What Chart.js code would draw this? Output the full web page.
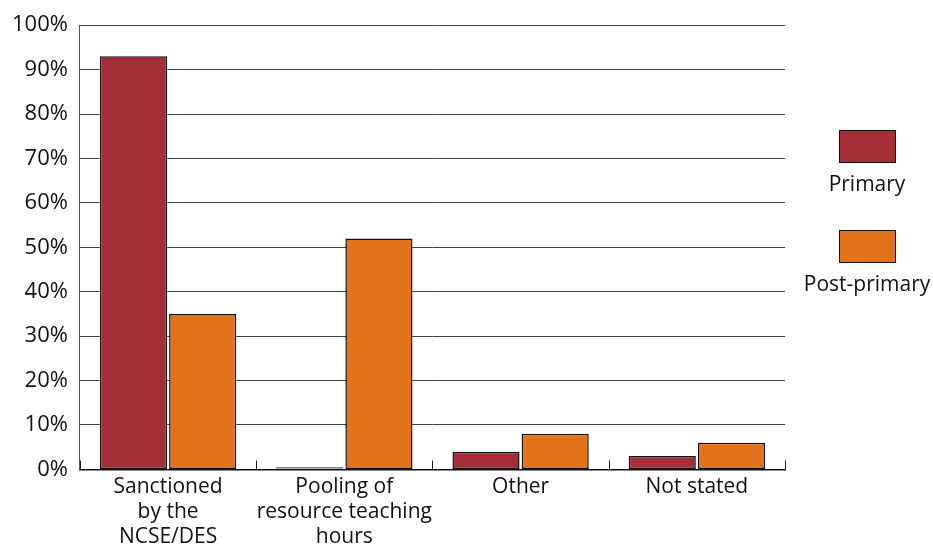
<!DOCTYPE html>
<html>
<head>
<meta charset="utf-8">
<script src="https://cdn.jsdelivr.net/npm/chart.js@4"></script>
<style>
  html, body { margin: 0; padding: 0; background: #fff; }
  #wrap { width: 933px; height: 547px; }
</style>
</head>
<body>
<div id="wrap"><canvas id="chart" width="933" height="547"></canvas></div>
<script>
const categories = [
    ["Sanctioned", "by the", "NCSE/DES"],
    ["Pooling of", "resource teaching", "hours"],
    ["Other"],
    ["Not stated"]
];
const primary = [93, 0, 4, 3];
const postPrimary = [35, 52, 8, 6];
const yTicks = [0, 10, 20, 30, 40, 50, 60, 70, 80, 90, 100];

const FONT = "'Open Sans', 'Noto Sans', sans-serif";

let ctx = document.getElementById('chart').getContext('2d');

// short upward ticks on the x axis at category boundaries
const boundaryTicks = {
    id: 'boundaryTicks',
    afterDatasetsDraw(chart) {
        const { ctx, chartArea, scales } = chart;
        const x = scales.x;
        ctx.save();
        ctx.strokeStyle = '#222';
        ctx.lineWidth = 1;
        for (let i = 0; i <= categories.length; i++) {
            const px = Math.round(x.getPixelForValue(i - 0.5)) + 0.5;
            ctx.beginPath();
            ctx.moveTo(px, chartArea.bottom);
            ctx.lineTo(px, chartArea.bottom - 9);
            ctx.stroke();
        }
        // zero-height bars still show their outline as a line on the axis
        chart.data.datasets.forEach((ds, di) => {
            chart.getDatasetMeta(di).data.forEach((bar, i) => {
                if (ds.data[i] === 0) {
                    ctx.strokeStyle = '#333';
                    ctx.beginPath();
                    ctx.moveTo(bar.x - bar.width / 2, chartArea.bottom - 1.5);
                    ctx.lineTo(bar.x + bar.width / 2, chartArea.bottom - 1.5);
                    ctx.stroke();
                }
            });
        });
        ctx.restore();
    }
};

// legend: box above label, stacked on the right
const sideLegend = {
    id: 'sideLegend',
    afterDraw(chart) {
        const { ctx, chartArea } = chart;
        const cx = chartArea.right + 82;
        const items = chart.data.datasets;
        ctx.save();
        ctx.font = '500 21px ' + FONT;
        ctx.textAlign = 'center';
        ctx.textBaseline = 'middle';
        items.forEach((ds, i) => {
            const top = 130 + i * 100;
            ctx.fillStyle = ds.backgroundColor;
            ctx.fillRect(cx - 28, top, 56, 32);
            ctx.strokeStyle = '#111';
            ctx.lineWidth = 1;
            ctx.strokeRect(cx - 28 + 0.5, top + 0.5, 56, 32);
            ctx.fillStyle = '#111';
            ctx.fillText(ds.label, cx, top + 55);
        });
        ctx.restore();
    }
};

let chart = new Chart(ctx, {
    type: 'bar',
    data: {
        labels: categories,
        datasets: [
            {
                label: 'Primary',
                data: primary,
                backgroundColor: '#A52D38',
                borderColor: '#111',
                borderWidth: 1.5,
                borderSkipped: false,
                categoryPercentage: 0.785,
                barPercentage: 0.97
            },
            {
                label: 'Post-primary',
                data: postPrimary,
                backgroundColor: '#E3731A',
                borderColor: '#111',
                borderWidth: 1.5,
                borderSkipped: false,
                categoryPercentage: 0.785,
                barPercentage: 0.97
            }
        ]
    },
    options: {
        responsive: false,
        animation: false,
        devicePixelRatio: 1,
        layout: { padding: { top: 6, right: 148, left: 0, bottom: 0 } },
        plugins: {
            legend: { display: false },
            tooltip: { enabled: false }
        },
        scales: {
            x: {
                grid: { display: false },
                border: { display: true, color: '#111', width: 1.5 },
                ticks: {
                    color: '#111',
                    font: { family: FONT, size: 21, weight: '500', lineHeight: 1.2 },
                    padding: -3,
                    maxRotation: 0,
                    autoSkip: false
                }
            },
            y: {
                min: 0,
                max: 100,
                afterBuildTicks(axis) {
                    axis.ticks = yTicks.map(v => ({ value: v }));
                },
                grid: {
                    color: '#444',
                    lineWidth: 1,
                    drawTicks: false
                },
                border: { display: true, color: '#555', width: 1 },
                ticks: {
                    color: '#111',
                    font: { family: FONT, size: 22, weight: '500' },
                    padding: 12,
                    callback: v => v + '%'
                }
            }
        }
    },
    plugins: [boundaryTicks, sideLegend]
});
</script>
</body>
</html>
